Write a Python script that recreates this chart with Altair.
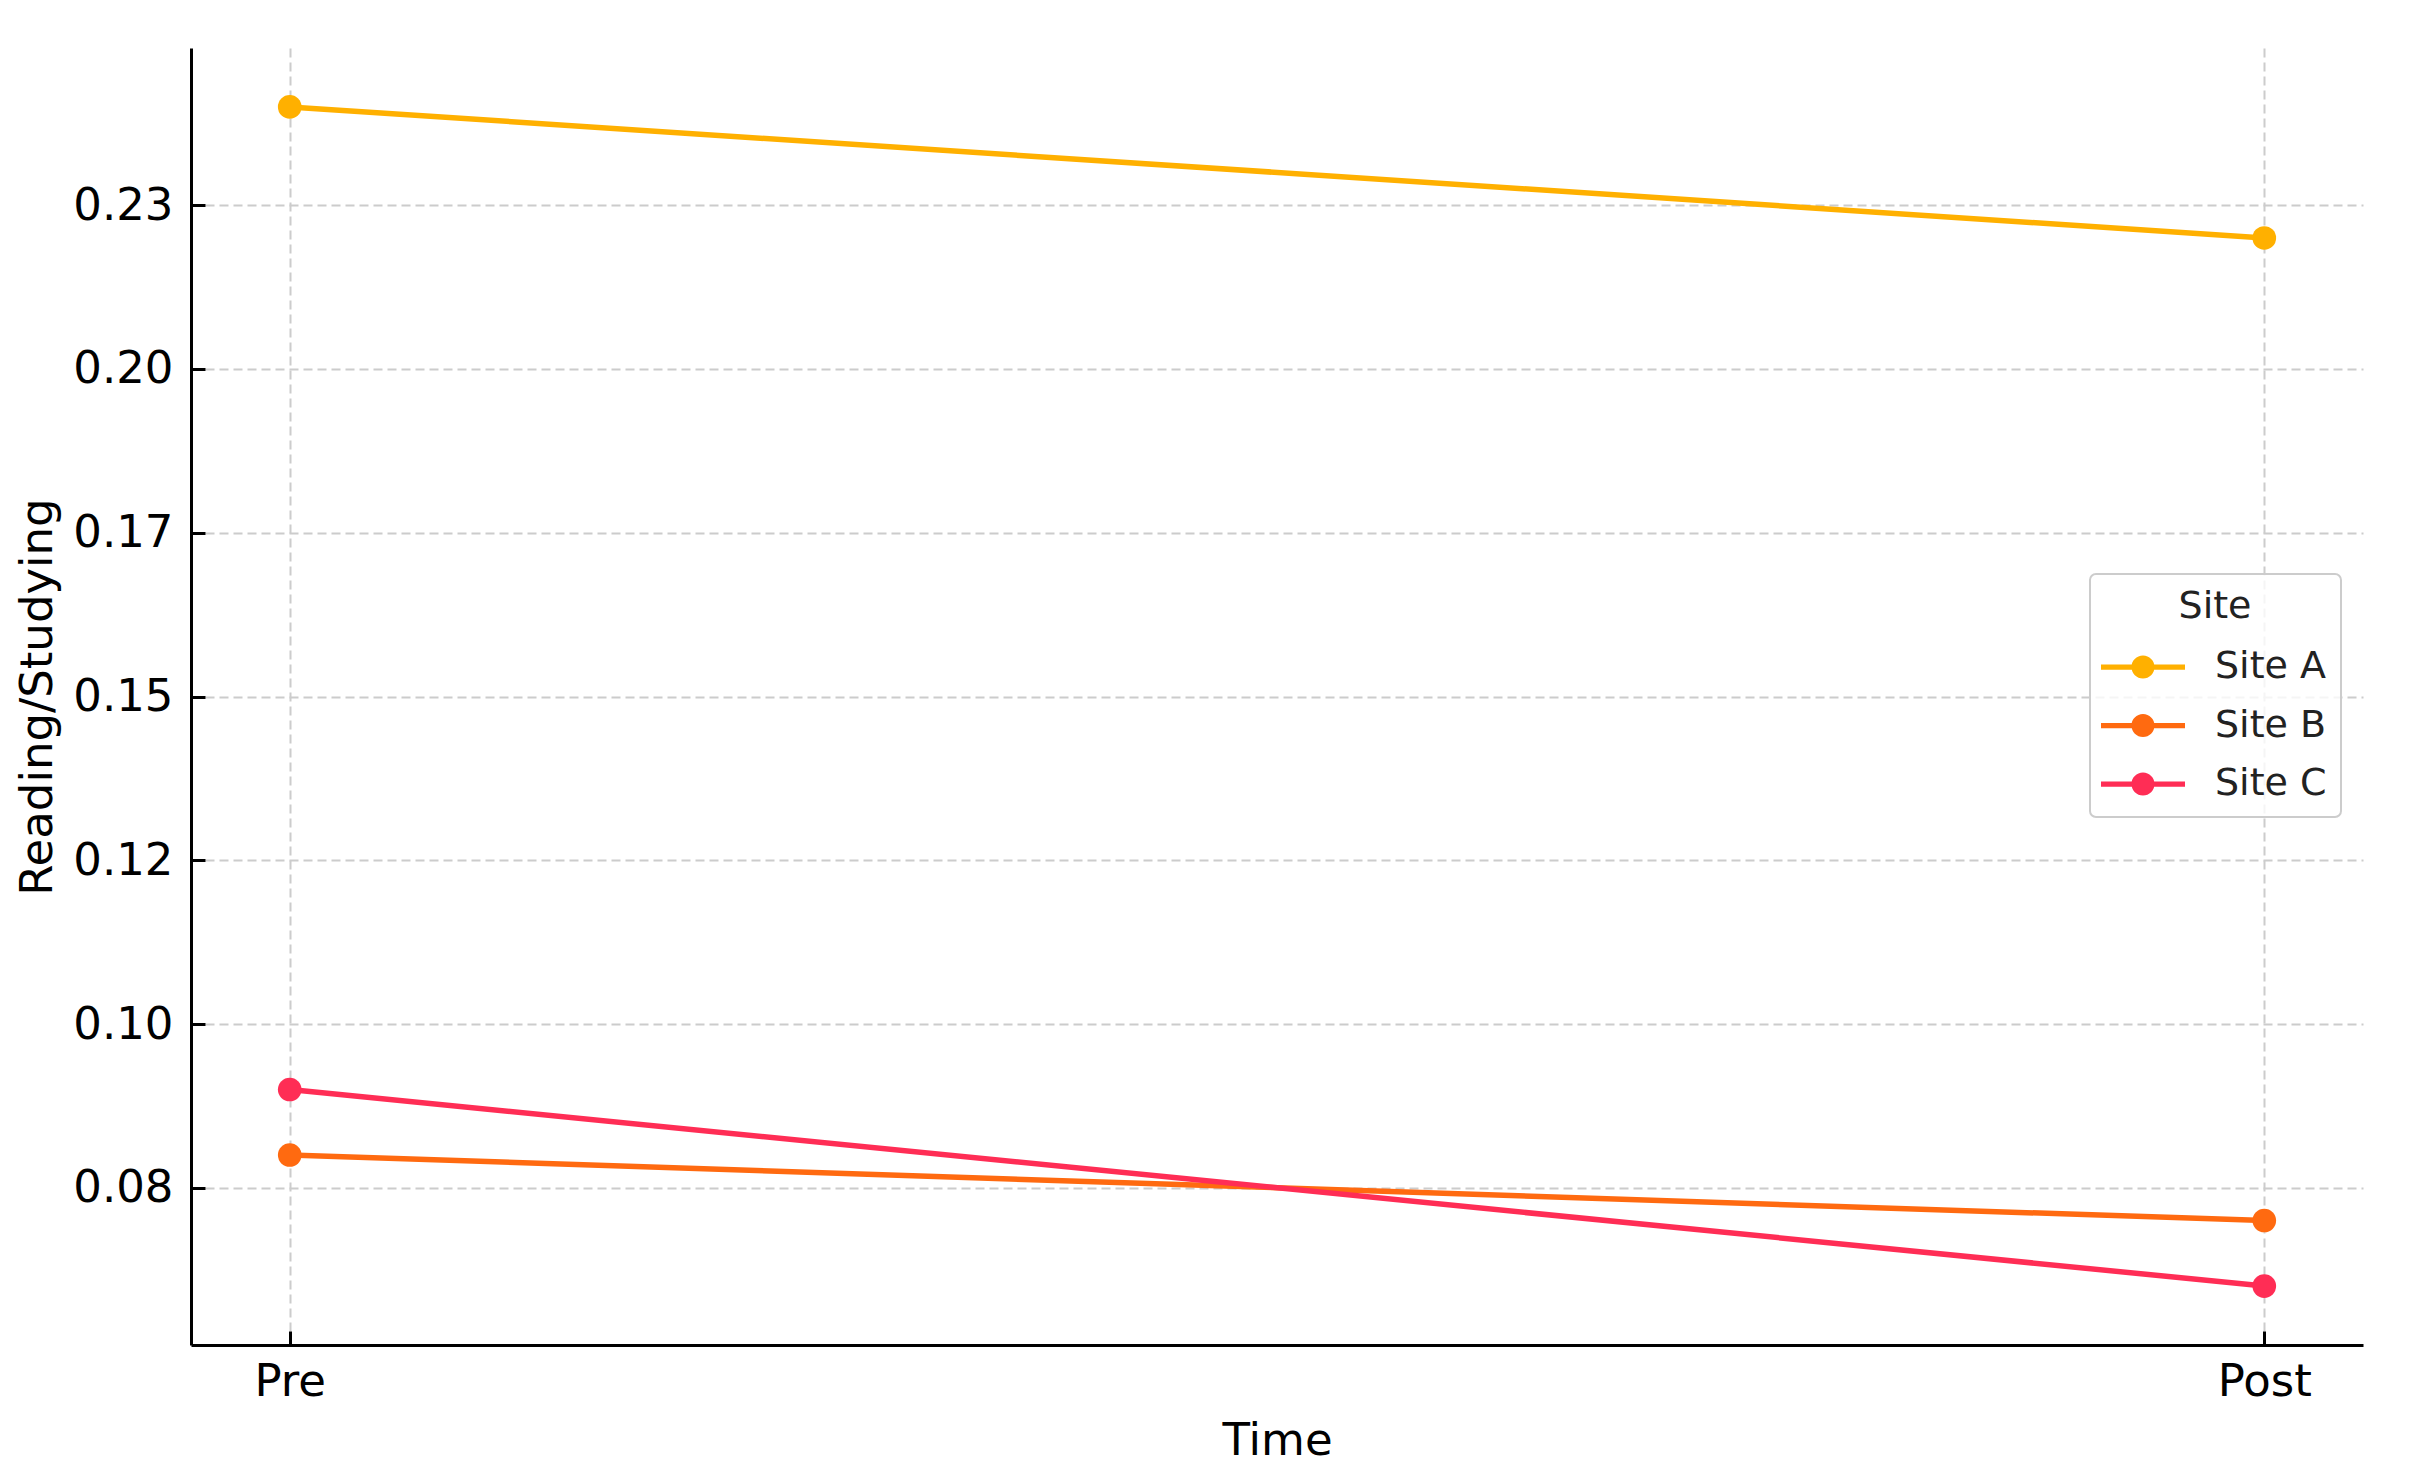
import altair as alt
import pandas as pd

# ---- data ----
times = ["Pre", "Post"]
sites = ["Site A", "Site B", "Site C"]
site_a = [0.240, 0.220]
site_b = [0.080, 0.070]
site_c = [0.090, 0.060]
colors = ["#FFB000", "#FF6A10", "#FF2D55"]
y_ticks = [0.075, 0.100, 0.125, 0.150, 0.175, 0.200, 0.225]
y_tick_labels = ["0.08", "0.10", "0.12", "0.15", "0.17", "0.20", "0.23"]
y_domain = [0.051, 0.249]

rows = []
for site, vals in zip(sites, [site_a, site_b, site_c]):
    for t, v in zip(times, vals):
        rows.append({"Time": t, "Value": v, "Site": site})
df = pd.DataFrame(rows)

W, H = 2172, 1297
FONT = "DejaVu Sans"
TICK_LEN = 14

label_expr = "''"
for v, l in reversed(list(zip(y_ticks, y_tick_labels))):
    label_expr = f"abs(datum.value - {v}) < 1e-6 ? '{l}' : ({label_expr})"

x_scale = alt.Scale(type="point", padding=0.05, domain=times)
y_scale = alt.Scale(domain=y_domain, nice=False, zero=False)
color_scale = alt.Scale(domain=sites, range=colors)

x_enc = alt.X("Time:N", scale=x_scale, title="Time", axis=alt.Axis(labelAngle=0))
y_enc = alt.Y("Value:Q", scale=y_scale, title="Reading/Studying",
              axis=alt.Axis(values=y_ticks, labelExpr=label_expr))

legend_symbol = ("M-2,-0.125H2V0.125H-2Z"
                 "M-0.55,0A0.55,0.55,0,1,1,0.55,0A0.55,0.55,0,1,1,-0.55,0Z")

line_layers = []
for site, c in zip(sites, colors):
    line_layers.append(
        alt.Chart(df).transform_filter(alt.datum.Site == site)
        .mark_line(strokeWidth=5.5, color=c)
        .encode(x=x_enc, y=y_enc, order=alt.Order("Time:N"))
    )

points = alt.Chart(df).mark_point(filled=True, size=560, opacity=1).encode(
    x=x_enc, y=y_enc,
    color=alt.Color("Site:N", scale=color_scale,
                    legend=alt.Legend(
                        title="Site", orient="none", legendX=1899, legendY=526,
                        symbolType=legend_symbol, symbolSize=1764,
                        symbolStrokeWidth=0, symbolOffset=18,
                        labelOffset=51, rowPadding=18.5, titlePadding=20,
                        padding=14, titleAnchor="middle",
                        fillColor="rgba(255,255,255,0.8)", strokeColor="#cccccc",
                        cornerRadius=6)))

main = alt.layer(*line_layers, points)

# helper axes that draw the inward-pointing tick marks (matplotlib "in" ticks)
tick_axes = alt.Chart(df).mark_point(opacity=0).encode(
    x=alt.X("Time:N", scale=x_scale, title=None,
            axis=alt.Axis(orient="top", offset=-H, labels=False, domain=False,
                          grid=False, ticks=True, tickSize=TICK_LEN, tickWidth=3,
                          tickColor="black")),
    y=alt.Y("Value:Q", scale=y_scale, title=None,
            axis=alt.Axis(orient="right", offset=-W, values=y_ticks, labels=False,
                          domain=False, grid=False, ticks=True, tickSize=TICK_LEN,
                          tickWidth=3, tickColor="black")),
)

chart = alt.layer(main, tick_axes).resolve_axis(
    x="independent", y="independent"
).properties(
    width=W, height=H,
    autosize=alt.AutoSizeParams(type="none"),
    padding={"left": 183, "top": 40, "right": 40, "bottom": 120},
).configure_view(stroke=None).configure_axis(
    domainColor="black", domainWidth=3, ticks=False,
    grid=True, gridColor="#cccccc", gridWidth=2, gridDash=[9, 5],
    labelFont=FONT, labelFontSize=45, labelColor="#000000",
    titleFont=FONT, titleFontSize=45, titleFontWeight="normal", titleColor="#000000",
).configure_axisX(labelPadding=14, titlePadding=14
).configure_axisY(labelPadding=18, titlePadding=12
).configure_legend(
    labelFont=FONT, labelFontSize=38, labelColor="#222222",
    titleFont=FONT, titleFontSize=38, titleFontWeight="normal", titleColor="#222222",
    strokeWidth=2,
)

chart.save("out.html", embed_options={"renderer": "svg", "actions": False})
